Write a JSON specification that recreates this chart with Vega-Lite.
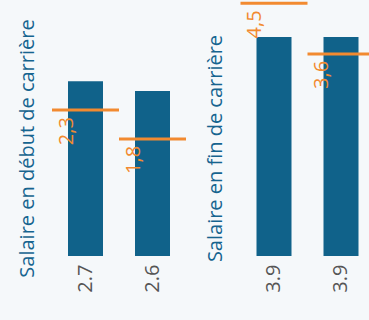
{
  "$schema": "https://vega.github.io/schema/vega-lite/v6.json",
  "background": "#f5f8fa",
  "padding": {"left": 17, "top": 0, "right": 0, "bottom": 35},
  "bounds": "flush",
  "spacing": 54.5,
  "config": {
    "view": {"stroke": null},
    "font": "Open Sans",
    "axis": {"grid": false, "domain": false, "ticks": false}
  },
  "hconcat": [
    {
      "width": 134,
      "height": 256,
      "data": {"values": [
        {"cat": "2.7", "value": 2.73, "ref": 2.28, "refLabel": "2,3"},
        {"cat": "2.6", "value": 2.58, "ref": 1.83, "refLabel": "1,8"}
      ]},
      "encoding": {
        "x": {"field": "cat", "type": "nominal", "sort": null,
          "scale": {"paddingInner": 0, "paddingOuter": 0},
          "axis": {"title": null, "labelAngle": -90, "labelFontSize": 20, "labelColor": "#555555", "labelPadding": 8}}
      },
      "layer": [
        {
          "mark": {"type": "bar", "size": 35, "color": "#10628a"},
          "encoding": {
            "y": {"field": "value", "type": "quantitative", "scale": {"domain": [0, 4], "nice": false},
              "axis": {"title": "Salaire en début de carrière", "labels": false, "titleFontSize": 20, "titleColor": "#16648f", "titleFontWeight": "normal", "titleX": -25, "titleY": 148, "titleBaseline": "middle", "titleAngle": -90}}
          }
        },
        {
          "mark": {"type": "tick", "size": 67, "thickness": 3, "color": "#f28a30", "opacity": 1},
          "encoding": {"y": {"field": "ref", "type": "quantitative"}}
        },
        {
          "mark": {"type": "text", "angle": 270, "align": "right", "baseline": "middle", "fontSize": 20, "color": "#f28a30", "dx": -7, "dy": -19},
          "encoding": {"y": {"field": "ref", "type": "quantitative"}, "text": {"field": "refLabel"}}
        }
      ]
    },
    {
      "width": 134,
      "height": 256,
      "data": {"values": [
        {"cat": "3.9a", "label": "3.9", "value": 3.9, "ref": 4.5, "refLabel": "4,5"},
        {"cat": "3.9b", "label": "3.9", "value": 3.9, "ref": 3.6, "refLabel": "3,6"}
      ]},
      "encoding": {
        "x": {"field": "cat", "type": "nominal", "sort": null,
          "scale": {"paddingInner": 0, "paddingOuter": 0},
          "axis": {"title": null, "labelAngle": -90, "labelFontSize": 20, "labelColor": "#555555", "labelPadding": 8, "labelExpr": "slice(datum.label, 0, 3)"}}
      },
      "layer": [
        {
          "mark": {"type": "bar", "size": 35, "color": "#10628a"},
          "encoding": {
            "y": {"field": "value", "type": "quantitative", "scale": {"domain": [0, 4.56], "nice": false},
              "axis": {"title": "Salaire en fin de carrière", "labels": false, "titleFontSize": 20, "titleColor": "#16648f", "titleFontWeight": "normal", "titleX": -25, "titleY": 148, "titleBaseline": "middle", "titleAngle": -90}}
          }
        },
        {
          "mark": {"type": "tick", "size": 67, "thickness": 3, "color": "#f28a30", "opacity": 1},
          "encoding": {"y": {"field": "ref", "type": "quantitative"}}
        },
        {
          "mark": {"type": "text", "angle": 270, "align": "right", "baseline": "middle", "fontSize": 20, "color": "#f28a30", "dx": -7, "dy": -19},
          "encoding": {"y": {"field": "ref", "type": "quantitative"}, "text": {"field": "refLabel"}}
        }
      ]
    }
  ]
}
